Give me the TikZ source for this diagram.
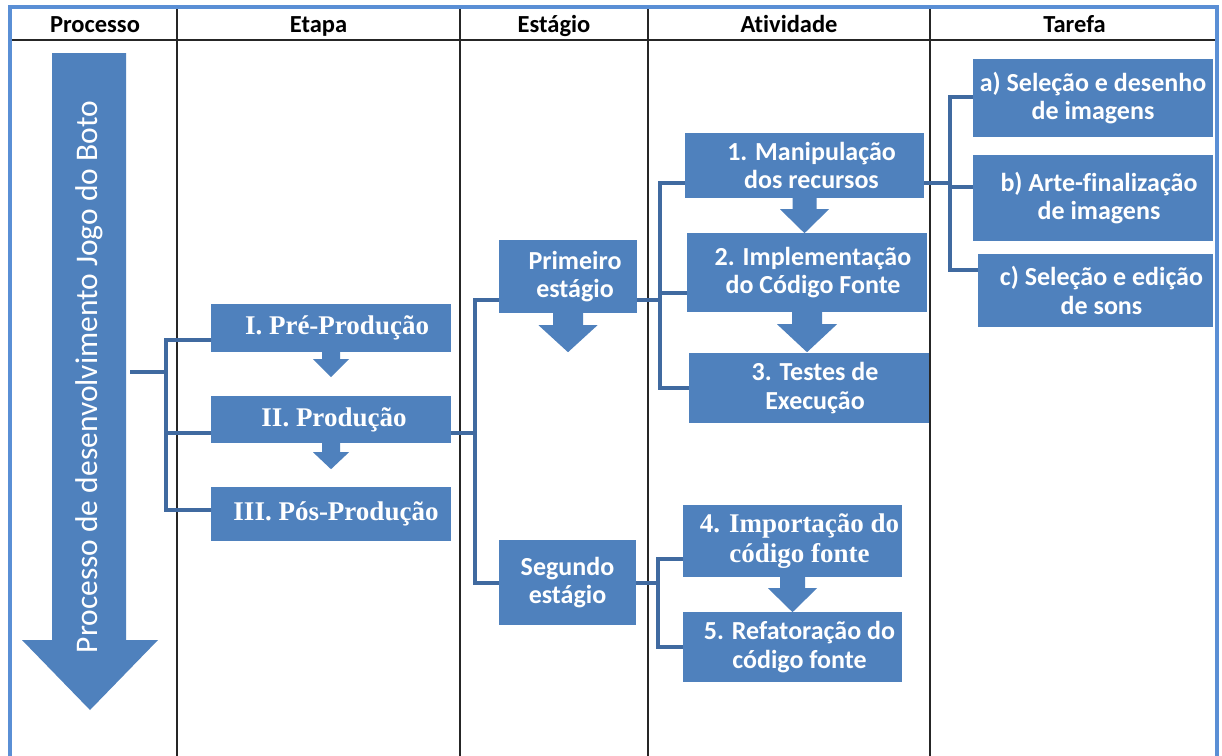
\documentclass[tikz,border=0pt]{standalone}
\usepackage{fontspec}
\setmainfont{Carlito}[Ligatures={NoCommon}]
\newfontfamily\timesf{Liberation Serif}[Ligatures={NoCommon}]
\usetikzlibrary{calc}
\definecolor{boxblue}{HTML}{4F81BD}
\definecolor{linkblue}{HTML}{406AA0}
\definecolor{frameblue}{HTML}{5A8FD5}
\begin{document}
\begin{tikzpicture}[x=1pt,y=-1pt,
  box/.style={fill=boxblue, inner sep=0pt},
  btext/.style={text=white, inner sep=0pt, align=center,
    font=\bfseries\fontsize{26}{28.5}\selectfont},
  stext/.style={btext, font=\timesf\bfseries\fontsize{27}{30}\selectfont},
  conn/.style={draw=linkblue, line width=4pt},
  gridline/.style={draw=black!85, line width=1.1pt},
  headtxt/.style={font=\bfseries\fontsize{24.5}{26}\selectfont, inner sep=0pt, anchor=base},
  blk/.style={fill=boxblue}]
\useasboundingbox (0,0) rectangle (1222,755);
\fill[white] (0,0) rectangle (1222,755);
% grid
\draw[gridline] (10,40) -- (1217,40);
\foreach \xx in {177,460,648,930} \draw[gridline] (\xx,7) -- (\xx,760);
\draw[frameblue, line width=4pt] (10,7) rectangle (1217,770);
% headers
\node[headtxt] (hp) at (95,32) {Processo};
\node[headtxt] (he) at (318.5,32) {Etapa};
\node[headtxt] (hs) at (554,32) {Estágio};
\node[headtxt] (ha) at (789,32) {Atividade};
\node[headtxt] (ht) at (1074.5,32) {Tarefa};
% big process arrow
\fill[boxblue] (52,53) -- (126,53) -- (126,640) -- (158,640) -- (90,710) -- (22,640) -- (52,640) -- cycle;
\node[rotate=90, text=white, inner sep=0pt, font=\fontsize{31.5}{36}\selectfont] (ptext) at (89,377) {Processo de desenvolvimento Jogo do Boto};
% boxes
\node[box, minimum width=240pt, minimum height=48pt, label={[stext,xshift=6pt]center:{I. Pré-Produção}}] (e1) at (331,328) {};
\node[box, minimum width=240pt, minimum height=47pt, label={[stext,xshift=3pt]center:{II. Produção}}] (e2) at (331,419.5) {};
\node[box, minimum width=240pt, minimum height=54pt, label={[stext,xshift=5pt]center:{III. Pós-Produção}}] (e3) at (331,514) {};
\node[box, minimum width=138pt, minimum height=73pt, label={[btext,xshift=7pt]center:{Primeiro\\estágio}}] (s1) at (568,276.5) {};
\node[box, minimum width=137pt, minimum height=85pt, label={[btext]center:{Segundo\\estágio}}] (s2) at (567.5,582.5) {};
\node[box, minimum width=239pt, minimum height=65pt, label={[btext,xshift=7pt]center:{1. Manipulação\\dos recursos}}] (a1) at (804.5,165.5) {};
\node[box, minimum width=240pt, minimum height=79pt, label={[btext,xshift=6pt]center:{2. Implementação\\do Código Fonte}}] (a2) at (807,272.5) {};
\node[box, minimum width=240pt, minimum height=70pt, label={[btext,xshift=6pt]center:{3. Testes de\\Execução}}] (a3) at (809,388) {};
\node[box, minimum width=219pt, minimum height=72pt, label={[stext,xshift=7pt]center:{4. Importação do\\código fonte}}] (a4) at (792.5,541) {};
\node[box, minimum width=219pt, minimum height=70pt, label={[btext,xshift=7pt]center:{5. Refatoração do\\código fonte}}] (a5) at (792.5,647) {};
\node[box, minimum width=240pt, minimum height=78pt, label={[btext]center:{a) Seleção e desenho\\de imagens}}] (ta) at (1093,98) {};
\node[box, minimum width=240pt, minimum height=86pt, label={[btext,xshift=6pt]center:{b) Arte-finalização\\de imagens}}] (tb) at (1093,198) {};
\node[box, minimum width=235pt, minimum height=73pt, label={[btext,xshift=6pt]center:{c) Seleção e edição\\de sons}}] (tc) at (1095.5,290.5) {};
% block arrows
\newcommand\barrowdraw[5]{\begin{scope}[shift={(#1)}]\fill[blk] (-#2,-1) -- (#2,-1) -- (#2,#3) -- (#4,#3) -- (0,#5) -- (-#4,#3) -- (-#2,#3) -- cycle;\end{scope}}
\barrowdraw{e1.south}{9}{7}{18}{25}
\barrowdraw{e2.south}{9}{9}{18}{26}
\barrowdraw{s1.south}{15}{12}{29.5}{39}
\barrowdraw{a1.south}{12}{11}{24.5}{35}
\barrowdraw{a2.south}{15}{12}{30}{40}
\barrowdraw{a4.south}{12.5}{11}{24.5}{35}
% connectors tree 1
\coordinate (pa) at (130,372);
\coordinate (b1) at (166,372);
\coordinate (c1) at ($(e1.west)+(0,12)$);
\coordinate (c2) at ($(e2.west)+(0,13.5)$);
\coordinate (c3) at ($(e3.west)+(0,-4)$);
\draw[conn] (pa) -- (b1);
\draw[conn] (c1) -- (c1 -| b1) -- (c3 -| b1) -- (c3);
\draw[conn] (c2 -| b1) -- (c2);
% tree 2
\coordinate (b2) at (475,0);
\coordinate (d2) at ($(e2.east)+(0,13.5)$);
\coordinate (ds1) at ($(s1.west)+(0,23.5)$);
\coordinate (ds2) at (s2.west);
\draw[conn] (d2) -- (d2 -| b2);
\draw[conn] (ds1) -- (ds1 -| b2) -- (ds2 -| b2) -- (ds2);
% tree 3
\coordinate (b3) at (660,0);
\coordinate (f1) at ($(s1.east)+(0,23.5)$);
\coordinate (g1) at ($(a1.west)+(0,17.5)$);
\coordinate (g2) at ($(a2.west)+(0,20.5)$);
\coordinate (g3) at (a3.west);
\draw[conn] (f1) -- (f1 -| b3);
\draw[conn] (g1) -- (g1 -| b3) -- (g3 -| b3) -- (g3);
\draw[conn] (g2 -| b3) -- (g2);
% tree 4
\coordinate (b4) at (950,0);
\coordinate (h0) at ($(a1.east)+(0,17.5)$);
\coordinate (ha) at ($(ta.west)+(0,-1)$);
\coordinate (hb) at ($(tb.west)+(0,-11)$);
\coordinate (hc) at ($(tc.west)+(0,-20.5)$);
\draw[conn] (h0) -- (h0 -| b4);
\draw[conn] (ha) -- (ha -| b4) -- (hc -| b4) -- (hc);
\draw[conn] (hb -| b4) -- (hb);
% tree 5
\coordinate (b5) at (658,0);
\coordinate (k0) at (s2.east);
\coordinate (k4) at ($(a4.west)+(0,18)$);
\coordinate (k5) at (a5.west);
\draw[conn] (k0) -- (k0 -| b5);
\draw[conn] (k4) -- (k4 -| b5) -- (k5 -| b5) -- (k5);
\end{tikzpicture}
\end{document}
